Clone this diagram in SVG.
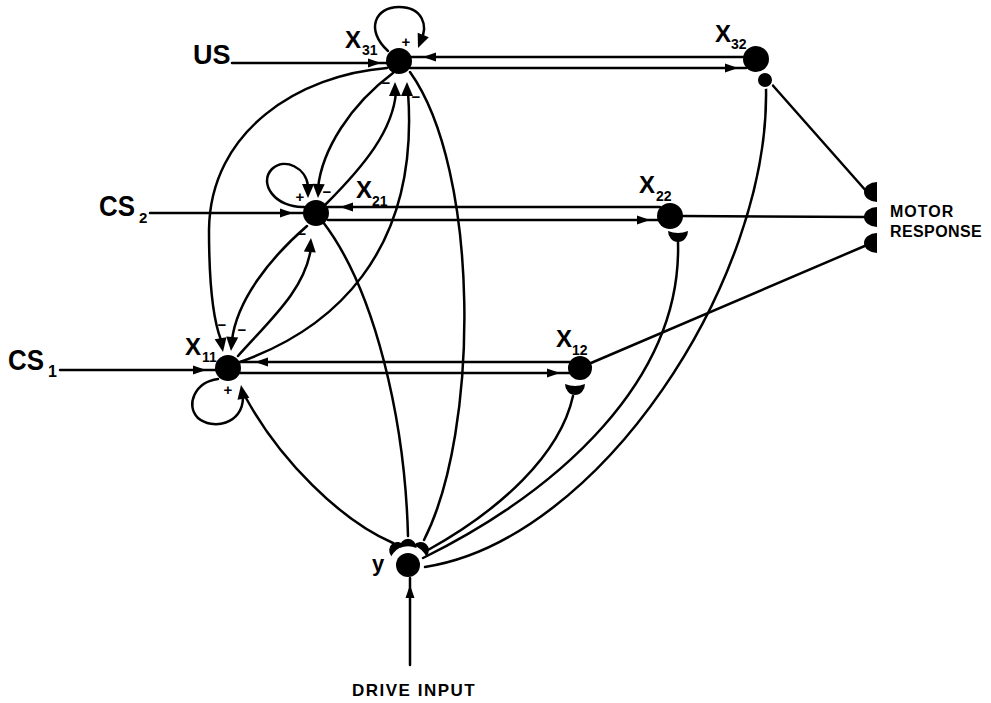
<svg xmlns="http://www.w3.org/2000/svg" xmlns:xlink="http://www.w3.org/1999/xlink" width="991" height="703" viewBox="0 0 991 703">
<style>
.c{fill:none;stroke:#000;stroke-width:2.5;stroke-linecap:round}
.n{fill:#000}
.t{font-family:"Liberation Sans",Arial,sans-serif;font-weight:bold;fill:#000}
.x{font-size:24px}
.s{font-size:14px}
.sg{font-family:"Liberation Sans",Arial,sans-serif;font-weight:bold;font-size:15px;fill:#000;text-anchor:middle}
</style>
<defs>
<path id="ah" d="M0,0 L-13,-4.5 L-13,4.5 Z" fill="#000"/>
<path id="ahb" d="M0,0 L-14,-6 L-14,6 Z" fill="#000"/>
<path id="cup" d="M-10,0 Q0,4 10,0 A10,11 0 0 1 -10,0 Z" fill="#000"/>
<path id="half" d="M0,-10 L0,10 A13,10 0 0 1 0,-10 Z" fill="#000"/>
</defs>
<rect width="991" height="703" fill="#fff"/>
<g id="connectors">
<path class="c" d="M232,63 L388,63"/>
<use href="#ah" transform="translate(381,63)"/>
<path class="c" d="M150,213 L305,213"/>
<use href="#ah" transform="translate(293,213)"/>
<path class="c" d="M60,370 L216,370"/>
<use href="#ah" transform="translate(206,370)"/>
<path class="c" d="M410,665 L410,578"/>
<use href="#ah" transform="translate(410,585) rotate(-90)"/>
<path class="c" d="M410,68 L746,68"/>
<use href="#ah" transform="translate(738,68)"/>
<path class="c" d="M745,57 L411,57"/>
<use href="#ah" transform="translate(423,57) rotate(180)"/>
<path class="c" d="M328,220 L660,220"/>
<use href="#ah" transform="translate(650,220)"/>
<path class="c" d="M660,207 L328,207"/>
<use href="#ah" transform="translate(340,207) rotate(180)"/>
<path class="c" d="M240,373 L570,373"/>
<use href="#ah" transform="translate(560,373)"/>
<path class="c" d="M570,362 L240,362"/>
<use href="#ah" transform="translate(255,362) rotate(180)"/>
<path class="c" d="M768,80 L867,192"/>
<path class="c" d="M682,216 L867,217"/>
<path class="c" d="M591,363 L867,245"/>
<path class="c" d="M388,51 C365,30 375,7 399,7 C423,7 428,26 421,40"/>
<use href="#ahb" transform="translate(418,48) rotate(112)"/>
<path class="c" d="M304,207 C275,208 258,183 272,169 C285,157 306,168 308,186"/>
<use href="#ahb" transform="translate(308,198) rotate(90)"/>
<path class="c" d="M218,379 C195,382 185,405 198,418 C212,430 243,425 243,397"/>
<use href="#ahb" transform="translate(241,385) rotate(-100)"/>
<path class="c" d="M387,68 C300,75 210,130 209,230 C209,290 214,322 221,340"/>
<use href="#ahb" transform="translate(223,352) rotate(80)"/>
<path class="c" d="M307,226 C270,258 237,300 232,340"/>
<use href="#ahb" transform="translate(231,351) rotate(95)"/>
<path class="c" d="M393,73 C350,105 322,150 318,188"/>
<use href="#ahb" transform="translate(318,198) rotate(93)"/>
<path class="c" d="M326,204 C365,165 393,130 396,92"/>
<use href="#ahb" transform="translate(395,82) rotate(-90)"/>
<path class="c" d="M240,362 C330,330 420,255 408,92"/>
<use href="#ahb" transform="translate(407,82) rotate(-90)"/>
<path class="c" d="M238,356 C270,320 305,290 311,248"/>
<use href="#ahb" transform="translate(311,238) rotate(-85)"/>
<path class="c" d="M410,72 C480,170 480,430 424,540"/>
<path class="c" d="M323,222 C375,290 405,420 408,536"/>
<path class="c" d="M393,543 C340,520 280,460 246,398"/>
<path class="c" d="M428,550 C500,510 560,455 573,396"/>
<path class="c" d="M423,558 C560,490 682,380 678,242"/>
<path class="c" d="M425,567 C600,540 770,280 766,88"/>
<text class="sg" x="406" y="47">+</text>
<text class="sg" x="386" y="88">−</text>
<text class="sg" x="416" y="102">−</text>
<text class="sg" x="300" y="202">+</text>
<text class="sg" x="327" y="197">−</text>
<text class="sg" x="302" y="239">−</text>
<text class="sg" x="222" y="330">−</text>
<text class="sg" x="242" y="335">−</text>
<text class="sg" x="228" y="395">+</text>
</g>
<g id="X31">
<circle class="n" cx="399" cy="61" r="13"/>
<text class="t x" x="345" y="48">X</text><text class="t s" x="362" y="55">31</text>
</g>
<g id="X32">
<circle class="n" cx="756" cy="59" r="13"/>
<circle cx="765" cy="80" r="8" fill="#000" stroke="#fff" stroke-width="2"/>
<text class="t x" x="715" y="42">X</text><text class="t s" x="731" y="49">32</text>
</g>
<g id="X21">
<circle class="n" cx="316" cy="213" r="13"/>
<text class="t x" x="356" y="198">X</text><text class="t s" x="372" y="206">21</text>
</g>
<g id="X22">
<circle class="n" cx="670" cy="216" r="13"/>
<use href="#cup" transform="translate(678,231)"/>
<text class="t x" x="639" y="193">X</text><text class="t s" x="656" y="201">22</text>
</g>
<g id="X11">
<circle class="n" cx="228" cy="368" r="13"/>
<text class="t x" x="185" y="355">X</text><text class="t s" x="202" y="362">11</text>
</g>
<g id="X12">
<circle class="n" cx="580" cy="368" r="12"/>
<use href="#cup" transform="translate(575,384)"/>
<text class="t x" x="556" y="347">X</text><text class="t s" x="572" y="355">12</text>
</g>
<g id="y">
<circle class="n" cx="408" cy="565" r="12"/>
<use href="#cup" transform="translate(398,551) rotate(142) scale(0.85)"/>
<use href="#cup" transform="translate(408,548) rotate(180) scale(0.85)"/>
<use href="#cup" transform="translate(420,551) rotate(221) scale(0.85)"/>
<text class="t" x="372" y="571" font-size="22">y</text>
</g>
<g id="US">
<text class="t" x="193" y="64" font-size="27">US</text>
</g>
<g id="CS2">
<text class="t" x="99" y="216" font-size="29" textLength="36" lengthAdjust="spacingAndGlyphs">CS</text>
<text class="t" x="139" y="223" font-size="15">2</text>
</g>
<g id="CS1">
<text class="t" x="8" y="370" font-size="29" textLength="36" lengthAdjust="spacingAndGlyphs">CS</text>
<text class="t" x="48" y="377" font-size="16">1</text>
</g>
<g id="motor">
<use href="#half" transform="translate(877,192)"/>
<use href="#half" transform="translate(877,217)"/>
<use href="#half" transform="translate(877,243)"/>
<text class="t" x="890" y="217" font-size="16" letter-spacing="1">MOTOR</text>
<text class="t" x="890" y="237" font-size="16" letter-spacing="0.4">RESPONSE</text>
</g>
<g id="drive">
<text class="t" x="352" y="696" font-size="17" letter-spacing="1.5">DRIVE INPUT</text>
</g>
</svg>
